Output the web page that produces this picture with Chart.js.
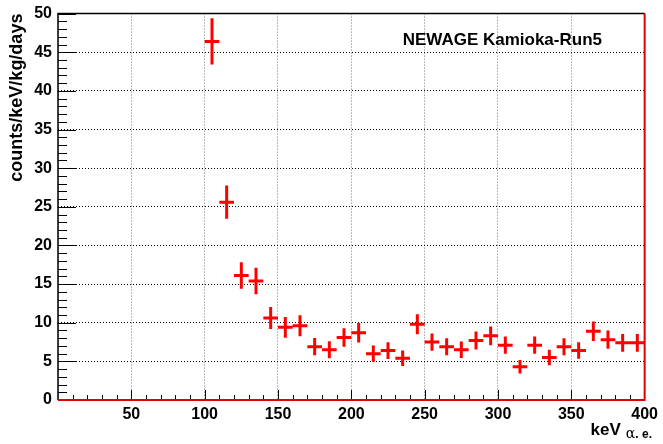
<!DOCTYPE html>
<html>
<head>
<meta charset="utf-8">
<script src="https://cdn.jsdelivr.net/npm/chart.js@4"></script>
<style>
    html, body { margin: 0; padding: 0; background: #fff; }
    #wrap { width: 663px; height: 444px; }
</style>
</head>
<body>
<div id="wrap"><canvas id="rateChart" width="663" height="444"></canvas></div>
<script>
// bin centres in keV (10 keV bins, 100-400)
const binCenters = [105, 115, 125, 135, 145, 155, 165, 175, 185, 195,
    205, 215, 225, 235, 245, 255, 265, 275, 285, 295,
    305, 315, 325, 335, 345, 355, 365, 375, 385, 395];
const binHalfWidth = 5;

// counts/keV/kg/days
const rates = [46.4, 25.6, 16.1, 15.4, 10.6, 9.4, 9.6, 6.9, 6.5, 8.1,
    8.7, 6.0, 6.4, 5.4, 9.8, 7.5, 6.9, 6.5, 7.7, 8.3,
    7.1, 4.3, 7.1, 5.5, 6.9, 6.4, 8.9, 7.8, 7.4, 7.4];

const rateErrors = [3.0, 2.15, 1.72, 1.72, 1.42, 1.34, 1.36, 1.12, 1.1, 1.2,
    1.25, 1.05, 1.08, 1.0, 1.3, 1.12, 1.1, 1.08, 1.16, 1.2,
    1.12, 0.86, 1.12, 1.0, 1.1, 1.07, 1.25, 1.18, 1.15, 1.15];

const xMin = 0, xMax = 400, xStep = 50, xMinorStep = 10;
const yMin = 0, yMax = 50, yStep = 5, yMinorStep = 1;

const xTitle = 'keV';
const xTitleSub = 'α. e.';
const yTitle = 'counts/keV/kg/days';
const runLabel = 'NEWAGE Kamioka-Run5';

const points = binCenters.map((x, i) => ({ x: x, y: rates[i] }));

const FONT = "'Liberation Sans', Arial, sans-serif";

const crossPlugin = {
    id: 'crosses',
    afterDatasetsDraw(chart) {
        const ctx = chart.ctx;
        const xs = chart.scales.x;
        const ys = chart.scales.y;
        const area = chart.chartArea;

        // inward ticks
        ctx.save();
        ctx.strokeStyle = '#000';
        ctx.lineWidth = 1;
        ctx.beginPath();
        for (let v = yMin; v <= yMax; v += yMinorStep) {
            const py = Math.round(ys.getPixelForValue(v)) + 0.5;
            const len = (v % yStep === 0) ? 18 : 9;
            ctx.moveTo(area.left, py);
            ctx.lineTo(area.left + len, py);
        }
        for (let v = xMin + xMinorStep; v < xMax; v += xMinorStep) {
            const px = Math.round(xs.getPixelForValue(v)) + 0.5;
            const len = (v % xStep === 0) ? 10 : 5;
            ctx.moveTo(px, area.bottom);
            ctx.lineTo(px, area.bottom - len);
        }
        ctx.stroke();

        // error crosses
        ctx.beginPath();
        ctx.rect(area.left, area.top, area.right - area.left, area.bottom - area.top);
        ctx.clip();
        ctx.strokeStyle = '#ff0000';
        ctx.lineWidth = 3;
        ctx.lineCap = 'butt';
        ctx.beginPath();
        for (let i = 0; i < binCenters.length; i++) {
            const x = binCenters[i];
            const y = rates[i];
            const e = rateErrors[i];
            ctx.moveTo(xs.getPixelForValue(x - binHalfWidth), ys.getPixelForValue(y));
            ctx.lineTo(xs.getPixelForValue(x + binHalfWidth), ys.getPixelForValue(y));
            ctx.moveTo(xs.getPixelForValue(x), ys.getPixelForValue(y - e));
            ctx.lineTo(xs.getPixelForValue(x), ys.getPixelForValue(y + e));
        }
        ctx.stroke();
        ctx.restore();

        // frame
        ctx.save();
        ctx.lineWidth = 1.5;
        ctx.strokeStyle = '#000';
        ctx.beginPath();
        ctx.moveTo(area.left, area.bottom);
        ctx.lineTo(area.left, area.top);
        ctx.lineTo(area.right, area.top);
        ctx.stroke();
        ctx.strokeStyle = '#e00000';
        ctx.lineWidth = 2;
        ctx.beginPath();
        ctx.moveTo(area.left, area.bottom);
        ctx.lineTo(area.right, area.bottom);
        ctx.lineTo(area.right, area.top);
        ctx.stroke();

        // run label
        ctx.fillStyle = '#000';
        ctx.font = 'bold 17px ' + FONT;
        ctx.textAlign = 'left';
        ctx.textBaseline = 'middle';
        ctx.fillText(runLabel, xs.getPixelForValue(235), ys.getPixelForValue(46.6));

        // x title with subscript
        ctx.textBaseline = 'alphabetic';
        const subFont = "14px 'DejaVu Serif', serif";
        const subFont2 = 'bold 12px ' + FONT;
        ctx.font = subFont;
        const wA = ctx.measureText('α').width;
        ctx.font = subFont2;
        const wRest = ctx.measureText('. e.').width;
        const right = 652;
        ctx.textAlign = 'left';
        ctx.fillText('. e.', right - wRest, 438);
        ctx.font = subFont;
        ctx.fillText('α', right - wRest - wA, 438);
        ctx.font = 'bold 17px ' + FONT;
        ctx.textAlign = 'right';
        ctx.fillText(xTitle, right - wRest - wA - 5, 435);
        ctx.restore();
    }
};

const ctx = document.getElementById('rateChart').getContext('2d');
// eslint-disable-next-line no-undef
new Chart(ctx, {
    type: 'scatter',
    data: {
        datasets: [{
            label: 'rate',
            data: points,
            pointRadius: 0,
            showLine: false
        }]
    },
    options: {
        responsive: false,
        animation: false,
        events: [],
        layout: { padding: { left: 0, right: 15, top: 0, bottom: 0 } },
        plugins: {
            legend: { display: false },
            tooltip: { enabled: false }
        },
        scales: {
            x: {
                type: 'linear',
                min: xMin,
                max: xMax,
                afterFit: (scale) => { scale.height = 44; },
                ticks: {
                    stepSize: xStep,
                    padding: 5,
                    maxRotation: 0,
                    color: '#000',
                    font: { family: FONT, size: 16, weight: 'bold' },
                    callback: (v) => (v === 0 ? '' : v)
                },
                grid: {
                    color: '#777',
                    lineWidth: 1,
                    drawTicks: false
                },
                border: { display: false, dash: [1, 2] }
            },
            y: {
                type: 'linear',
                min: yMin,
                max: yMax,
                afterFit: (scale) => { scale.width = 58; },
                ticks: {
                    stepSize: yStep,
                    padding: 6,
                    color: '#000',
                    font: { family: FONT, size: 16, weight: 'bold', lineHeight: 0.95 }
                },
                grid: {
                    color: '#000',
                    lineWidth: 1,
                    drawTicks: false
                },
                border: { display: false, dash: [1, 2] },
                title: {
                    display: true,
                    text: yTitle,
                    align: 'end',
                    color: '#000',
                    font: { family: FONT, size: 18, weight: 'bold' },
                    padding: { top: 6, bottom: 0 }
                }
            }
        }
    },
    plugins: [crossPlugin]
});
</script>
</body>
</html>
